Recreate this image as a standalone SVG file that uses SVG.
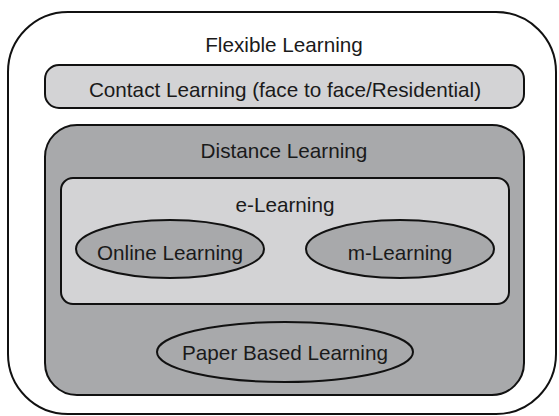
<svg xmlns="http://www.w3.org/2000/svg" width="559" height="416" viewBox="0 0 559 416">
<style>
.s{stroke:#111;stroke-width:2}
.light{fill:#d3d3d5}
.dark{fill:#a8a9ab}
text{font-family:"Liberation Sans",Arial,sans-serif;font-size:20.7px;fill:#1a1a1a;text-anchor:middle}
</style>
<rect width="559" height="416" fill="#fff"/>
<g id="flexible">
<rect class="s" x="8" y="12" width="548" height="402" rx="60" ry="60" fill="#fff"/>
<text x="284" y="52">Flexible Learning</text>
</g>
<g id="contact">
<rect class="s light" x="45" y="65" width="479" height="43" rx="14" ry="14"/>
<text x="285" y="97">Contact Learning (face to face/Residential)</text>
</g>
<g id="distance">
<rect class="s dark" x="45" y="125" width="479" height="270" rx="32" ry="32"/>
<text x="284" y="158">Distance Learning</text>
</g>
<g id="elearning">
<rect class="s light" x="61" y="178" width="448" height="126" rx="12" ry="12"/>
<text x="285" y="212">e-Learning</text>
</g>
<g id="online">
<ellipse class="s dark" cx="170" cy="249" rx="94" ry="29"/>
<text x="170" y="260">Online Learning</text>
</g>
<g id="mlearning">
<ellipse class="s dark" cx="400" cy="249" rx="94" ry="29"/>
<text x="400" y="260">m-Learning</text>
</g>
<g id="paper">
<ellipse class="s dark" cx="285" cy="352" rx="128" ry="30"/>
<text x="285" y="360">Paper Based Learning</text>
</g>
<g id="connectors"/>
</svg>
